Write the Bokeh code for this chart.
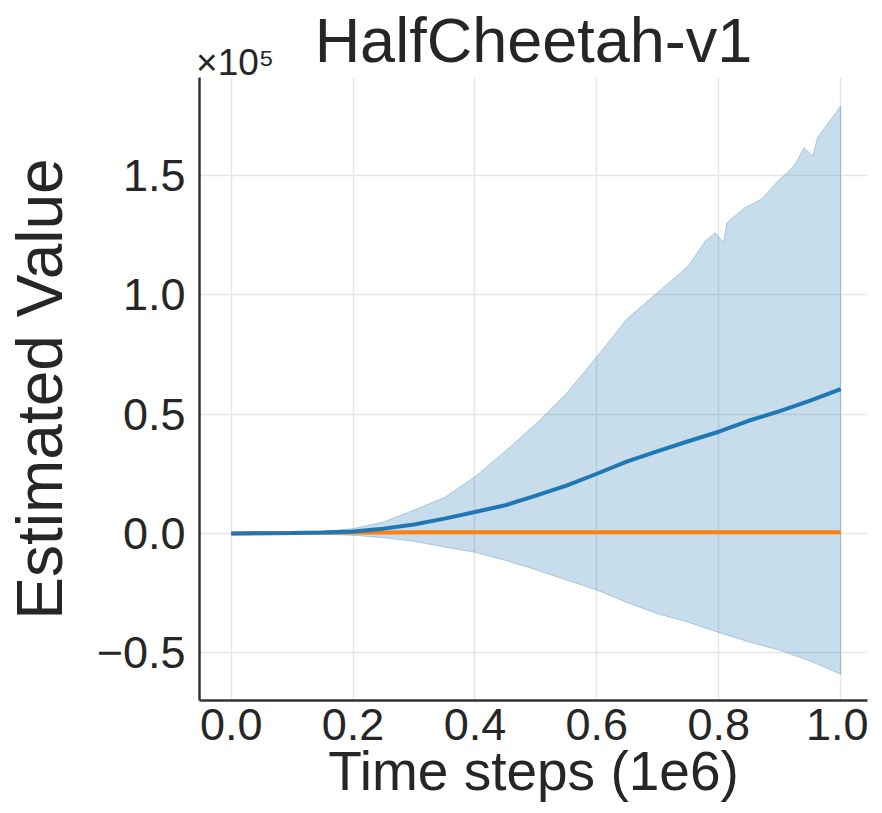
from bokeh.plotting import figure
from bokeh.models import Range1d, FixedTicker, CustomJSTickFormatter, LinearAxis
from bokeh.embed import file_html
from bokeh.resources import INLINE

# ---- data (values in units of 1e5) ----
steps = [0.0, 0.05, 0.10, 0.15, 0.20, 0.25, 0.30, 0.35, 0.40, 0.45, 0.50,
         0.55, 0.60, 0.65, 0.70, 0.75, 0.80, 0.85, 0.90, 0.95, 1.00]
mean_blue = [0.0, 0.0005, 0.002, 0.004, 0.008, 0.020, 0.037, 0.062, 0.090, 0.118, 0.158,
             0.200, 0.250, 0.302, 0.345, 0.386, 0.426, 0.473, 0.512, 0.556, 0.604]
upper_steps = [0.0, 0.05, 0.10, 0.15, 0.20, 0.25, 0.30, 0.35, 0.40, 0.45, 0.50,
               0.55, 0.60, 0.65, 0.70, 0.75, 0.778, 0.794, 0.808, 0.813, 0.843,
               0.87, 0.897, 0.924, 0.94, 0.954, 0.962, 0.978, 1.00]
upper_blue = [0.0, 0.001, 0.003, 0.008, 0.020, 0.048, 0.098, 0.150, 0.237, 0.345, 0.459,
              0.586, 0.740, 0.900, 1.010, 1.120, 1.225, 1.260, 1.218, 1.300, 1.365,
              1.400, 1.476, 1.540, 1.616, 1.580, 1.658, 1.714, 1.790]
lower_blue = [0.0, -0.0005, -0.001, -0.003, -0.008, -0.018, -0.033, -0.057, -0.079, -0.113, -0.152,
              -0.195, -0.237, -0.290, -0.337, -0.372, -0.415, -0.455, -0.490, -0.535, -0.590]
mean_orange = [0.0, 0.001, 0.002, 0.003, 0.004, 0.004, 0.005, 0.005, 0.005, 0.005, 0.005,
               0.005, 0.005, 0.005, 0.005, 0.005, 0.005, 0.005, 0.005, 0.005, 0.005]
x_ticks = [0.0, 0.2, 0.4, 0.6, 0.8, 1.0]
y_ticks = [-0.5, 0.0, 0.5, 1.0, 1.5]
title_text = "HalfCheetah-v1"
x_label = "Time steps (1e6)"
y_label = "Estimated Value"
offset_text = "\u00d710\u2075"

FONT = "Liberation Sans"
TXT = "#262626"
BLUE = "#1f77b4"
ORANGE = "#ff7f0e"

p = figure(width=868, height=805, output_backend="svg", toolbar_location=None,
           x_range=Range1d(-0.052, 1.044), y_range=Range1d(-0.70, 1.91),
           min_border_left=190, min_border_right=1, min_border_top=77, min_border_bottom=105)
p.outline_line_color = None
p.background_fill_color = "white"

# band
p.patch(upper_steps + steps[::-1], upper_blue + lower_blue[::-1],
        fill_color=BLUE, fill_alpha=0.25, line_color=BLUE, line_alpha=0.3, line_width=1)
p.line(steps, mean_orange, line_color=ORANGE, line_width=4)
p.line(steps, mean_blue, line_color=BLUE, line_width=4)

# axes
for ax in (p.xaxis[0], p.yaxis[0]):
    ax.major_tick_line_color = None
    ax.minor_tick_line_color = None
    ax.axis_line_color = "#333333"
    ax.axis_line_width = 2.5
    ax.major_label_text_font = FONT
    ax.major_label_text_font_size = "45px"
    ax.major_label_text_color = TXT
    ax.major_label_standoff = 8
    ax.axis_label_text_font = FONT
    ax.axis_label_text_font_style = "normal"
    ax.axis_label_text_color = TXT

p.xaxis.major_label_standoff = 2
p.xaxis.ticker = FixedTicker(ticks=x_ticks)
p.yaxis.ticker = FixedTicker(ticks=y_ticks)
p.xaxis.formatter = CustomJSTickFormatter(code="return tick.toFixed(1);")
p.yaxis.formatter = CustomJSTickFormatter(code="return tick.toFixed(1).replace('-', '\u2212');")

p.yaxis.axis_label = y_label
p.yaxis.axis_label_text_font_size = "64px"
p.yaxis.axis_label_standoff = 18

p.xaxis.axis_label = x_label
p.xaxis.axis_label_text_font_size = "55px"
p.xaxis.axis_label_standoff = -3

p.xgrid.grid_line_color = "#e6e6e6"
p.ygrid.grid_line_color = "#e6e6e6"
p.xgrid.grid_line_width = 1.5
p.ygrid.grid_line_width = 1.5

# offset text (x10^5) as tick label and the title as axis label of an unlined top axis
top_ax = LinearAxis(ticker=FixedTicker(ticks=[0.0065]),
                    formatter=CustomJSTickFormatter(code="return '%s';" % offset_text),
                    axis_line_color=None, major_tick_line_color=None, minor_tick_line_color=None,
                    major_tick_out=0, major_tick_in=0,
                    major_label_standoff=-5, major_label_text_font=FONT,
                    major_label_text_font_size="37px", major_label_text_color=TXT,
                    axis_label=title_text, axis_label_text_font=FONT,
                    axis_label_text_font_size="63px", axis_label_text_font_style="normal",
                    axis_label_text_color=TXT, axis_label_standoff=-36)
p.add_layout(top_ax, "above")

open("out.html", "w").write(file_html(p, INLINE))
